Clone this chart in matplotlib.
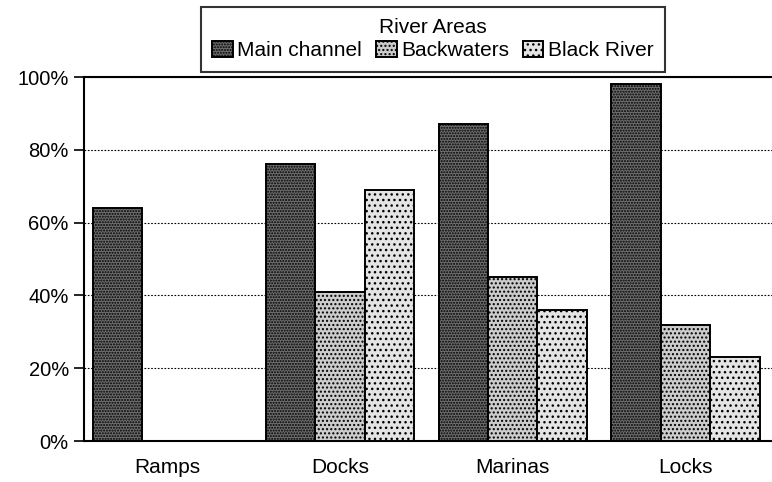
import numpy as np
import matplotlib
matplotlib.use("Agg")
from matplotlib import pyplot as plt

plt.rcParams['font.family'] = ['Liberation Sans', 'DejaVu Sans']
plt.rcParams['hatch.linewidth'] = 1.0

categories = ["Ramps", "Docks", "Marinas", "Locks"]
series = ["Main channel", "Backwaters", "Black River"]
main_channel = [64, 76, 87, 98]
backwaters = [np.nan, 41, 45, 32]
black_river = [np.nan, 69, 36, 23]
yticks = [0, 20, 40, 60, 80, 100]

faces = ['#6e6e6e', '#cccccc', '#e4e4e4']
hatches = ['......', '....', '...']

fig = plt.figure(figsize=(7.72, 4.82), dpi=100)
ax = fig.add_axes([0.109, 0.085, 0.891, 0.755])

x = np.arange(len(categories))
w = 0.286
valori = [main_channel, backwaters, black_river]
for i in range(3):
    ax.bar(x + (i - 1) * w, valori[i], width=w, facecolor=faces[i],
           edgecolor='black', hatch=hatches[i], linewidth=1.4,
           label=series[i], zorder=3)

ax.set_xlim(-0.48, 3.5)
ax.set_ylim(0, 100)
ax.set_yticks(yticks)
ax.set_yticklabels([str(v) + "%" for v in yticks], fontsize=14.5)
ax.set_xticks(x)
ax.set_xticklabels(categories, fontsize=15)
ax.tick_params(axis='x', length=0, pad=12)
ax.tick_params(axis='y', length=7, width=1.2, pad=4)
ax.yaxis.grid(True, linestyle=(0, (1.5, 1.5)), color='black', linewidth=0.8)
ax.set_axisbelow(True)
for s in ['left', 'bottom', 'top']:
    ax.spines[s].set_linewidth(1.5)
ax.spines['right'].set_visible(False)

leg = fig.legend(loc='lower left', bbox_to_anchor=(0.26, 0.851, 0.601, 0.141),
                 mode='expand', ncol=3, title="River Areas", fontsize=15,
                 title_fontsize=15, frameon=True, fancybox=False,
                 handlelength=1.0, handleheight=0.75, handletextpad=0.2,
                 columnspacing=0.6, borderpad=0.55, labelspacing=0.2,
                 borderaxespad=0)
leg.get_frame().set_edgecolor('black')
leg.get_frame().set_linewidth(1.5)

fig.savefig("out.png", dpi=100)
